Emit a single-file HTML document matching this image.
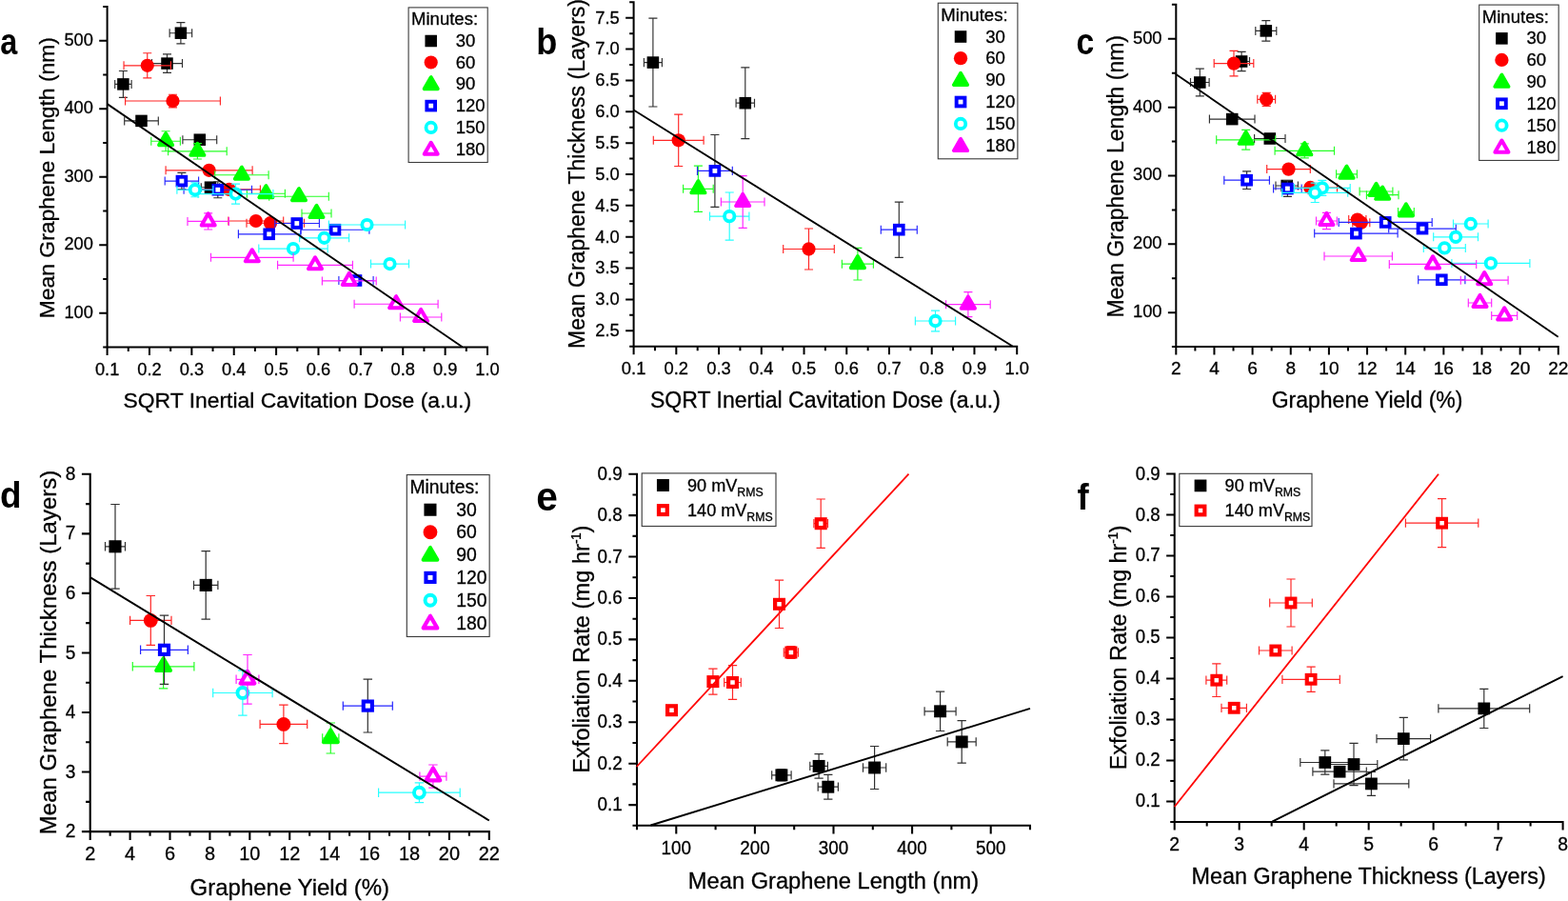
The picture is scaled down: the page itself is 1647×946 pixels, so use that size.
<!DOCTYPE html>
<html lang="en"><head><meta charset="utf-8"><title>Graphene exfoliation figure</title>
<style>html,body{margin:0;padding:0;background:#fff;}body{width:1647px;height:946px;overflow:hidden;font-family:"Liberation Sans", sans-serif;}svg{display:block;}</style>
</head><body>
<svg width="1647" height="946" viewBox="0 0 1647 946" font-family='"Liberation Sans", sans-serif' fill="#000">
<g id="panel-a">
<path d="M112.6 6.1V364.6H513M112.6 364.6v8.4M156.98 364.6v8.4M201.36 364.6v8.4M245.73 364.6v8.4M290.11 364.6v8.4M334.49 364.6v8.4M378.87 364.6v8.4M423.24 364.6v8.4M467.62 364.6v8.4M512 364.6v8.4M134.79 364.6v4.4M179.17 364.6v4.4M223.54 364.6v4.4M267.92 364.6v4.4M312.3 364.6v4.4M356.68 364.6v4.4M401.06 364.6v4.4M445.43 364.6v4.4M489.81 364.6v4.4M112.6 328.85h-8.4M112.6 257.35h-8.4M112.6 185.85h-8.4M112.6 114.35h-8.4M112.6 42.85h-8.4M112.6 364.6h-4.4M112.6 293.1h-4.4M112.6 221.6h-4.4M112.6 150.1h-4.4M112.6 78.6h-4.4M112.6 7.1h-4.4" stroke="#000" stroke-width="2" fill="none"/>
<text transform="translate(112.6 393.6) scale(0.96 1)" font-size="19" text-anchor="middle" stroke="#000" stroke-width="0.3">0.1</text>
<text transform="translate(156.98 393.6) scale(0.96 1)" font-size="19" text-anchor="middle" stroke="#000" stroke-width="0.3">0.2</text>
<text transform="translate(201.36 393.6) scale(0.96 1)" font-size="19" text-anchor="middle" stroke="#000" stroke-width="0.3">0.3</text>
<text transform="translate(245.73 393.6) scale(0.96 1)" font-size="19" text-anchor="middle" stroke="#000" stroke-width="0.3">0.4</text>
<text transform="translate(290.11 393.6) scale(0.96 1)" font-size="19" text-anchor="middle" stroke="#000" stroke-width="0.3">0.5</text>
<text transform="translate(334.49 393.6) scale(0.96 1)" font-size="19" text-anchor="middle" stroke="#000" stroke-width="0.3">0.6</text>
<text transform="translate(378.87 393.6) scale(0.96 1)" font-size="19" text-anchor="middle" stroke="#000" stroke-width="0.3">0.7</text>
<text transform="translate(423.24 393.6) scale(0.96 1)" font-size="19" text-anchor="middle" stroke="#000" stroke-width="0.3">0.8</text>
<text transform="translate(467.62 393.6) scale(0.96 1)" font-size="19" text-anchor="middle" stroke="#000" stroke-width="0.3">0.9</text>
<text transform="translate(512 393.6) scale(0.96 1)" font-size="19" text-anchor="middle" stroke="#000" stroke-width="0.3">1.0</text>
<text transform="translate(97.9 333.65) scale(0.96 1)" font-size="19" text-anchor="end" stroke="#000" stroke-width="0.3">100</text>
<text transform="translate(97.9 262.15) scale(0.96 1)" font-size="19" text-anchor="end" stroke="#000" stroke-width="0.3">200</text>
<text transform="translate(97.9 190.65) scale(0.96 1)" font-size="19" text-anchor="end" stroke="#000" stroke-width="0.3">300</text>
<text transform="translate(97.9 119.15) scale(0.96 1)" font-size="19" text-anchor="end" stroke="#000" stroke-width="0.3">400</text>
<text transform="translate(97.9 47.65) scale(0.96 1)" font-size="19" text-anchor="end" stroke="#000" stroke-width="0.3">500</text>
<text transform="translate(312.3 428.4)" font-size="22.9" text-anchor="middle" stroke="#000" stroke-width="0.3">SQRT Inertial Cavitation Dose (a.u.)</text>
<text transform="translate(57.2 186.65) rotate(-90)" font-size="22.9" text-anchor="middle" stroke="#000" stroke-width="0.3">Mean Graphene Length (nm)</text>
<text transform="translate(0.2 57.3) scale(0.82 1)" font-size="39.5" font-weight="bold" font-family="&quot;Liberation Sans&quot;, sans-serif">a</text>
<rect x="429.1" y="7.9" width="83.1" height="162.6" fill="#fff" stroke="#3c3c3c" stroke-width="1.1"/>
<text transform="translate(432.1 26.4)" font-size="18.5" stroke="#000" stroke-width="0.3">Minutes:</text>
<rect x="446.45" y="36.75" width="12.5" height="12.5" fill="#000000"/>
<text transform="translate(478.7 49.1)" font-size="18.5" stroke="#000" stroke-width="0.3">30</text>
<circle cx="452.7" cy="65.5" r="7.1" fill="#ff0000"/>
<text transform="translate(478.7 71.6)" font-size="18.5" stroke="#000" stroke-width="0.3">60</text>
<polygon points="452.7,81 445.58,93.3 459.83,93.3" fill="#00ff00" stroke="#00ff00" stroke-width="3.75" stroke-linejoin="round"/>
<text transform="translate(478.7 94.3)" font-size="18.5" stroke="#000" stroke-width="0.3">90</text>
<rect x="448.35" y="106.75" width="8.7" height="8.7" fill="#fff" stroke="#0000ff" stroke-width="3.9"/>
<text transform="translate(478.7 117.2)" font-size="18.5" stroke="#000" stroke-width="0.3">120</text>
<circle cx="452.7" cy="133.9" r="5.2" fill="#fff" stroke="#00ffff" stroke-width="3.8"/>
<text transform="translate(478.7 140)" font-size="18.5" stroke="#000" stroke-width="0.3">150</text>
<polygon points="452.7,149.73 445.7,161.83 459.7,161.83" fill="#fff" stroke="#ff00ff" stroke-width="4" stroke-linejoin="round"/>
<text transform="translate(478.7 162.9)" font-size="18.5" stroke="#000" stroke-width="0.3">180</text>
<g><path d="M178.15 34.7H201.65M178.15 30.2V39.2M201.65 30.2V39.2" stroke="#303030" stroke-width="1.15" fill="none"/><path d="M189.9 23.6V45.8M185.4 23.6H194.4M185.4 45.8H194.4" stroke="#303030" stroke-width="1.15" fill="none"/><path d="M159.5 66.6H191.5M159.5 62.1V71.1M191.5 62.1V71.1" stroke="#303030" stroke-width="1.15" fill="none"/><path d="M175.5 56.8V76.4M171 56.8H180M171 76.4H180" stroke="#303030" stroke-width="1.15" fill="none"/><path d="M120.7 88.4H138.1M120.7 83.9V92.9M138.1 83.9V92.9" stroke="#303030" stroke-width="1.15" fill="none"/><path d="M129.4 74.5V102.3M124.9 74.5H133.9M124.9 102.3H133.9" stroke="#303030" stroke-width="1.15" fill="none"/><path d="M130.7 126.9H166.3M130.7 122.4V131.4M166.3 122.4V131.4" stroke="#303030" stroke-width="1.15" fill="none"/><path d="M148.5 123.9V129.9M144 123.9H153M144 129.9H153" stroke="#303030" stroke-width="1.15" fill="none"/><path d="M191.9 146.7H227.7M191.9 142.2V151.2M227.7 142.2V151.2" stroke="#303030" stroke-width="1.15" fill="none"/><path d="M209.8 143.7V149.7M205.3 143.7H214.3M205.3 149.7H214.3" stroke="#303030" stroke-width="1.15" fill="none"/><path d="M211.3 196.7H230.7M211.3 192.2V201.2M230.7 192.2V201.2" stroke="#303030" stroke-width="1.15" fill="none"/><path d="M221 193.7V199.7M216.5 193.7H225.5M216.5 199.7H225.5" stroke="#303030" stroke-width="1.15" fill="none"/><rect x="183.65" y="28.45" width="12.5" height="12.5" fill="#000000"/><rect x="169.25" y="60.35" width="12.5" height="12.5" fill="#000000"/><rect x="123.15" y="82.15" width="12.5" height="12.5" fill="#000000"/><rect x="142.25" y="120.65" width="12.5" height="12.5" fill="#000000"/><rect x="203.55" y="140.45" width="12.5" height="12.5" fill="#000000"/><rect x="214.75" y="190.45" width="12.5" height="12.5" fill="#000000"/></g>
<g><path d="M130.05 68.8H179.45M130.05 64.3V73.3M179.45 64.3V73.3" stroke="#ff2626" stroke-width="1.15" fill="none"/><path d="M154.75 55.7V81.9M150.25 55.7H159.25M150.25 81.9H159.25" stroke="#ff2626" stroke-width="1.15" fill="none"/><path d="M131.6 106H231.4M131.6 101.5V110.5M231.4 101.5V110.5" stroke="#ff2626" stroke-width="1.15" fill="none"/><path d="M181.5 99.2V112.8M177 99.2H186M177 112.8H186" stroke="#ff2626" stroke-width="1.15" fill="none"/><path d="M174.1 178.8H265.1M174.1 174.3V183.3M265.1 174.3V183.3" stroke="#ff2626" stroke-width="1.15" fill="none"/><path d="M208.2 198.9H273.4M208.2 194.4V203.4M273.4 194.4V203.4" stroke="#ff2626" stroke-width="1.15" fill="none"/><path d="M239.9 232H297.7M239.9 227.5V236.5M297.7 227.5V236.5" stroke="#ff2626" stroke-width="1.15" fill="none"/><path d="M259 234.2H319.5M259 229.7V238.7M319.5 229.7V238.7" stroke="#ff2626" stroke-width="1.15" fill="none"/><circle cx="154.75" cy="68.8" r="7.1" fill="#ff0000"/><circle cx="181.5" cy="106" r="7.1" fill="#ff0000"/><circle cx="219.6" cy="178.8" r="7.1" fill="#ff0000"/><circle cx="240.8" cy="198.9" r="7.1" fill="#ff0000"/><circle cx="268.8" cy="232" r="7.1" fill="#ff0000"/><circle cx="284" cy="234.2" r="7.1" fill="#ff0000"/></g>
<g><path d="M158.8 148.2H189.4M158.8 143.7V152.7M189.4 143.7V152.7" stroke="#26ff26" stroke-width="1.15" fill="none"/><path d="M174.1 137.7V158.7M169.6 137.7H178.6M169.6 158.7H178.6" stroke="#26ff26" stroke-width="1.15" fill="none"/><path d="M176.6 158.8H238.2M176.6 154.3V163.3M238.2 154.3V163.3" stroke="#26ff26" stroke-width="1.15" fill="none"/><path d="M207.4 150.6V167M202.9 150.6H211.9M202.9 167H211.9" stroke="#26ff26" stroke-width="1.15" fill="none"/><path d="M225.7 183.7H282.1M225.7 179.2V188.2M282.1 179.2V188.2" stroke="#26ff26" stroke-width="1.15" fill="none"/><path d="M259.4 203.2H299.4M259.4 198.7V207.7M299.4 198.7V207.7" stroke="#26ff26" stroke-width="1.15" fill="none"/><path d="M282.7 206.2H345.3M282.7 201.7V210.7M345.3 201.7V210.7" stroke="#26ff26" stroke-width="1.15" fill="none"/><path d="M317 224H348M317 219.5V228.5M348 219.5V228.5" stroke="#26ff26" stroke-width="1.15" fill="none"/><polygon points="174.1,140 166.97,152.3 181.22,152.3" fill="#00ff00" stroke="#00ff00" stroke-width="3.75" stroke-linejoin="round"/><polygon points="207.4,150.6 200.28,162.9 214.53,162.9" fill="#00ff00" stroke="#00ff00" stroke-width="3.75" stroke-linejoin="round"/><polygon points="253.9,175.5 246.78,187.8 261.02,187.8" fill="#00ff00" stroke="#00ff00" stroke-width="3.75" stroke-linejoin="round"/><polygon points="279.4,195 272.27,207.3 286.52,207.3" fill="#00ff00" stroke="#00ff00" stroke-width="3.75" stroke-linejoin="round"/><polygon points="314,198 306.88,210.3 321.12,210.3" fill="#00ff00" stroke="#00ff00" stroke-width="3.75" stroke-linejoin="round"/><polygon points="332.5,215.8 325.38,228.1 339.62,228.1" fill="#00ff00" stroke="#00ff00" stroke-width="3.75" stroke-linejoin="round"/></g>
<g><path d="M173.2 190.1H208.6M173.2 185.6V194.6M208.6 185.6V194.6" stroke="#2626ff" stroke-width="1.15" fill="none"/><path d="M190.9 181.3V198.9M186.4 181.3H195.4M186.4 198.9H195.4" stroke="#303030" stroke-width="1.15" fill="none"/><path d="M193.1 199.2H264.5M193.1 194.7V203.7M264.5 194.7V203.7" stroke="#2626ff" stroke-width="1.15" fill="none"/><path d="M228.8 190.7V207.7M224.3 190.7H233.3M224.3 207.7H233.3" stroke="#303030" stroke-width="1.15" fill="none"/><path d="M288.8 234.5H335.4M288.8 230V239M335.4 230V239" stroke="#2626ff" stroke-width="1.15" fill="none"/><path d="M250.4 245.8H315.8M250.4 241.3V250.3M315.8 241.3V250.3" stroke="#2626ff" stroke-width="1.15" fill="none"/><path d="M316.1 241.2H387.9M316.1 236.7V245.7M387.9 236.7V245.7" stroke="#2626ff" stroke-width="1.15" fill="none"/><path d="M355.9 294.5H392.1M355.9 290V299M392.1 290V299" stroke="#2626ff" stroke-width="1.15" fill="none"/><rect x="186.55" y="185.75" width="8.7" height="8.7" fill="#fff" stroke="#0000ff" stroke-width="3.9"/><rect x="224.45" y="194.85" width="8.7" height="8.7" fill="#fff" stroke="#0000ff" stroke-width="3.9"/><rect x="307.45" y="230.15" width="8.7" height="8.7" fill="#fff" stroke="#0000ff" stroke-width="3.9"/><rect x="278.35" y="241.45" width="8.7" height="8.7" fill="#fff" stroke="#0000ff" stroke-width="3.9"/><rect x="347.65" y="236.85" width="8.7" height="8.7" fill="#fff" stroke="#0000ff" stroke-width="3.9"/><rect x="369.65" y="290.15" width="8.7" height="8.7" fill="#fff" stroke="#0000ff" stroke-width="3.9"/></g>
<g><path d="M185.9 199.2H223.9M185.9 194.7V203.7M223.9 194.7V203.7" stroke="#26ffff" stroke-width="1.15" fill="none"/><path d="M204.9 191.7V206.7M200.4 191.7H209.4M200.4 206.7H209.4" stroke="#26ffff" stroke-width="1.15" fill="none"/><path d="M208.1 203.6H286.9M208.1 199.1V208.1M286.9 199.1V208.1" stroke="#26ffff" stroke-width="1.15" fill="none"/><path d="M247.5 193.1V214.1M243 193.1H252M243 214.1H252" stroke="#26ffff" stroke-width="1.15" fill="none"/><path d="M345.4 236H425.6M345.4 231.5V240.5M425.6 231.5V240.5" stroke="#26ffff" stroke-width="1.15" fill="none"/><path d="M314.6 249.8H366.6M314.6 245.3V254.3M366.6 245.3V254.3" stroke="#26ffff" stroke-width="1.15" fill="none"/><path d="M271.8 261.1H344.2M271.8 256.6V265.6M344.2 256.6V265.6" stroke="#26ffff" stroke-width="1.15" fill="none"/><path d="M389.5 277.1H429.5M389.5 272.6V281.6M429.5 272.6V281.6" stroke="#26ffff" stroke-width="1.15" fill="none"/><circle cx="204.9" cy="199.2" r="5.2" fill="#fff" stroke="#00ffff" stroke-width="3.8"/><circle cx="247.5" cy="203.6" r="5.2" fill="#fff" stroke="#00ffff" stroke-width="3.8"/><circle cx="385.5" cy="236" r="5.2" fill="#fff" stroke="#00ffff" stroke-width="3.8"/><circle cx="340.6" cy="249.8" r="5.2" fill="#fff" stroke="#00ffff" stroke-width="3.8"/><circle cx="308" cy="261.1" r="5.2" fill="#fff" stroke="#00ffff" stroke-width="3.8"/><circle cx="409.5" cy="277.1" r="5.2" fill="#fff" stroke="#00ffff" stroke-width="3.8"/></g>
<g><path d="M197 232.4H240.4M197 227.9V236.9M240.4 227.9V236.9" stroke="#ff26ff" stroke-width="1.15" fill="none"/><path d="M218.7 223.8V241M214.2 223.8H223.2M214.2 241H223.2" stroke="#ff26ff" stroke-width="1.15" fill="none"/><path d="M221.5 270.3H308.1M221.5 265.8V274.8M308.1 265.8V274.8" stroke="#ff26ff" stroke-width="1.15" fill="none"/><path d="M291.6 278.3H370.4M291.6 273.8V282.8M370.4 273.8V282.8" stroke="#ff26ff" stroke-width="1.15" fill="none"/><path d="M338.4 294.9H395.2M338.4 290.4V299.4M395.2 290.4V299.4" stroke="#ff26ff" stroke-width="1.15" fill="none"/><path d="M372.1 319.2H460.1M372.1 314.7V323.7M460.1 314.7V323.7" stroke="#ff26ff" stroke-width="1.15" fill="none"/><path d="M420.4 333H463.8M420.4 328.5V337.5M463.8 328.5V337.5" stroke="#ff26ff" stroke-width="1.15" fill="none"/><polygon points="218.7,224.33 211.7,236.43 225.7,236.43" fill="#fff" stroke="#ff00ff" stroke-width="4" stroke-linejoin="round"/><polygon points="264.8,262.23 257.8,274.33 271.8,274.33" fill="#fff" stroke="#ff00ff" stroke-width="4" stroke-linejoin="round"/><polygon points="331,270.23 324,282.33 338,282.33" fill="#fff" stroke="#ff00ff" stroke-width="4" stroke-linejoin="round"/><polygon points="366.8,286.83 359.8,298.93 373.8,298.93" fill="#fff" stroke="#ff00ff" stroke-width="4" stroke-linejoin="round"/><polygon points="416.1,311.13 409.1,323.23 423.1,323.23" fill="#fff" stroke="#ff00ff" stroke-width="4" stroke-linejoin="round"/><polygon points="442.1,324.93 435.1,337.03 449.1,337.03" fill="#fff" stroke="#ff00ff" stroke-width="4" stroke-linejoin="round"/></g>
<line x1="112.6" y1="109.1" x2="485.6" y2="364.3" stroke="#000" stroke-width="1.9"/>
</g>
<g id="panel-b">
<path d="M665.6 1.29V363.7H1069.21M665.6 363.7v8.45M710.33 363.7v8.45M755.07 363.7v8.45M799.8 363.7v8.45M844.53 363.7v8.45M889.27 363.7v8.45M934 363.7v8.45M978.73 363.7v8.45M1023.47 363.7v8.45M1068.2 363.7v8.45M687.97 363.7v4.43M732.7 363.7v4.43M777.43 363.7v4.43M822.17 363.7v4.43M866.9 363.7v4.43M911.63 363.7v4.43M956.37 363.7v4.43M1001.1 363.7v4.43M1045.83 363.7v4.43M665.6 347.27h-8.45M665.6 314.42h-8.45M665.6 281.56h-8.45M665.6 248.71h-8.45M665.6 215.85h-8.45M665.6 183h-8.45M665.6 150.15h-8.45M665.6 117.29h-8.45M665.6 84.44h-8.45M665.6 51.58h-8.45M665.6 18.73h-8.45M665.6 363.7h-4.43M665.6 330.85h-4.43M665.6 297.99h-4.43M665.6 265.14h-4.43M665.6 232.28h-4.43M665.6 199.43h-4.43M665.6 166.57h-4.43M665.6 133.72h-4.43M665.6 100.86h-4.43M665.6 68.01h-4.43M665.6 35.15h-4.43M665.6 2.3h-4.43" stroke="#000" stroke-width="2.01" fill="none"/>
<text transform="translate(665.6 392.87) scale(0.96 1)" font-size="19.11" text-anchor="middle" stroke="#000" stroke-width="0.3">0.1</text>
<text transform="translate(710.33 392.87) scale(0.96 1)" font-size="19.11" text-anchor="middle" stroke="#000" stroke-width="0.3">0.2</text>
<text transform="translate(755.07 392.87) scale(0.96 1)" font-size="19.11" text-anchor="middle" stroke="#000" stroke-width="0.3">0.3</text>
<text transform="translate(799.8 392.87) scale(0.96 1)" font-size="19.11" text-anchor="middle" stroke="#000" stroke-width="0.3">0.4</text>
<text transform="translate(844.53 392.87) scale(0.96 1)" font-size="19.11" text-anchor="middle" stroke="#000" stroke-width="0.3">0.5</text>
<text transform="translate(889.27 392.87) scale(0.96 1)" font-size="19.11" text-anchor="middle" stroke="#000" stroke-width="0.3">0.6</text>
<text transform="translate(934 392.87) scale(0.96 1)" font-size="19.11" text-anchor="middle" stroke="#000" stroke-width="0.3">0.7</text>
<text transform="translate(978.73 392.87) scale(0.96 1)" font-size="19.11" text-anchor="middle" stroke="#000" stroke-width="0.3">0.8</text>
<text transform="translate(1023.47 392.87) scale(0.96 1)" font-size="19.11" text-anchor="middle" stroke="#000" stroke-width="0.3">0.9</text>
<text transform="translate(1068.2 392.87) scale(0.96 1)" font-size="19.11" text-anchor="middle" stroke="#000" stroke-width="0.3">1.0</text>
<text transform="translate(650.81 353.11) scale(0.96 1)" font-size="19.11" text-anchor="end" stroke="#000" stroke-width="0.3">2.5</text>
<text transform="translate(650.81 320.25) scale(0.96 1)" font-size="19.11" text-anchor="end" stroke="#000" stroke-width="0.3">3.0</text>
<text transform="translate(650.81 287.4) scale(0.96 1)" font-size="19.11" text-anchor="end" stroke="#000" stroke-width="0.3">3.5</text>
<text transform="translate(650.81 254.54) scale(0.96 1)" font-size="19.11" text-anchor="end" stroke="#000" stroke-width="0.3">4.0</text>
<text transform="translate(650.81 221.69) scale(0.96 1)" font-size="19.11" text-anchor="end" stroke="#000" stroke-width="0.3">4.5</text>
<text transform="translate(650.81 188.83) scale(0.96 1)" font-size="19.11" text-anchor="end" stroke="#000" stroke-width="0.3">5.0</text>
<text transform="translate(650.81 155.98) scale(0.96 1)" font-size="19.11" text-anchor="end" stroke="#000" stroke-width="0.3">5.5</text>
<text transform="translate(650.81 123.13) scale(0.96 1)" font-size="19.11" text-anchor="end" stroke="#000" stroke-width="0.3">6.0</text>
<text transform="translate(650.81 90.27) scale(0.96 1)" font-size="19.11" text-anchor="end" stroke="#000" stroke-width="0.3">6.5</text>
<text transform="translate(650.81 57.42) scale(0.96 1)" font-size="19.11" text-anchor="end" stroke="#000" stroke-width="0.3">7.0</text>
<text transform="translate(650.81 24.56) scale(0.96 1)" font-size="19.11" text-anchor="end" stroke="#000" stroke-width="0.3">7.5</text>
<text transform="translate(866.9 427.88)" font-size="23.04" text-anchor="middle" stroke="#000" stroke-width="0.3">SQRT Inertial Cavitation Dose (a.u.)</text>
<text transform="translate(613.69 182.5) rotate(-90)" font-size="23.04" text-anchor="middle" stroke="#000" stroke-width="0.3">Mean Graphene Thickness (Layers)</text>
<text transform="translate(563.3 56.9) scale(0.95 1)" font-size="38.03" font-weight="bold" font-family="&quot;Liberation Sans&quot;, sans-serif">b</text>
<rect x="985.3" y="3.21" width="83.6" height="163.58" fill="#fff" stroke="#3c3c3c" stroke-width="1.11"/>
<text transform="translate(988.32 21.82)" font-size="18.61" stroke="#000" stroke-width="0.3">Minutes:</text>
<rect x="1002.75" y="32.23" width="12.57" height="12.57" fill="#000000"/>
<text transform="translate(1035.2 44.65)" font-size="18.61" stroke="#000" stroke-width="0.3">30</text>
<circle cx="1009.04" cy="61.15" r="7.14" fill="#ff0000"/>
<text transform="translate(1035.2 67.29)" font-size="18.61" stroke="#000" stroke-width="0.3">60</text>
<polygon points="1009.04,76.74 1001.87,89.12 1016.21,89.12" fill="#00ff00" stroke="#00ff00" stroke-width="3.77" stroke-linejoin="round"/>
<text transform="translate(1035.2 90.12)" font-size="18.61" stroke="#000" stroke-width="0.3">90</text>
<rect x="1004.67" y="102.65" width="8.75" height="8.75" fill="#fff" stroke="#0000ff" stroke-width="3.92"/>
<text transform="translate(1035.2 113.16)" font-size="18.61" stroke="#000" stroke-width="0.3">120</text>
<circle cx="1009.04" cy="129.96" r="5.23" fill="#fff" stroke="#00ffff" stroke-width="3.82"/>
<text transform="translate(1035.2 136.1)" font-size="18.61" stroke="#000" stroke-width="0.3">150</text>
<polygon points="1009.04,145.76 1001.87,158.13 1016.21,158.13" fill="#ff00ff" stroke="#ff00ff" stroke-width="3.77" stroke-linejoin="round"/>
<text transform="translate(1035.2 159.14)" font-size="18.61" stroke="#000" stroke-width="0.3">180</text>
<g><path d="M676.4 65.6H695.4M676.4 61.07V70.13M695.4 61.07V70.13" stroke="#303030" stroke-width="1.16" fill="none"/><path d="M685.9 19.2V112M681.37 19.2H690.43M681.37 112H690.43" stroke="#303030" stroke-width="1.16" fill="none"/><path d="M773.1 108.2H792.5M773.1 103.67V112.73M792.5 103.67V112.73" stroke="#303030" stroke-width="1.16" fill="none"/><path d="M782.8 70.8V145.6M778.27 70.8H787.33M778.27 145.6H787.33" stroke="#303030" stroke-width="1.16" fill="none"/><rect x="679.61" y="59.31" width="12.57" height="12.57" fill="#000000"/><rect x="776.51" y="101.91" width="12.57" height="12.57" fill="#000000"/></g>
<g><path d="M686.3 147.3H739.1M686.3 142.77V151.83M739.1 142.77V151.83" stroke="#ff2626" stroke-width="1.16" fill="none"/><path d="M712.7 120.1V174.5M708.17 120.1H717.23M708.17 174.5H717.23" stroke="#ff2626" stroke-width="1.16" fill="none"/><path d="M822.7 261.5H876.3M822.7 256.97V266.03M876.3 256.97V266.03" stroke="#ff2626" stroke-width="1.16" fill="none"/><path d="M849.5 240V283M844.97 240H854.03M844.97 283H854.03" stroke="#ff2626" stroke-width="1.16" fill="none"/><circle cx="712.7" cy="147.3" r="7.14" fill="#ff0000"/><circle cx="849.5" cy="261.5" r="7.14" fill="#ff0000"/></g>
<g><path d="M717.6 198.3H749.2M717.6 193.77V202.83M749.2 193.77V202.83" stroke="#26ff26" stroke-width="1.16" fill="none"/><path d="M733.4 174.2V222.4M728.87 174.2H737.93M728.87 222.4H737.93" stroke="#26ff26" stroke-width="1.16" fill="none"/><path d="M884.4 277.2H917.4M884.4 272.67V281.73M917.4 272.67V281.73" stroke="#26ff26" stroke-width="1.16" fill="none"/><path d="M900.9 260.4V294M896.37 260.4H905.43M896.37 294H905.43" stroke="#26ff26" stroke-width="1.16" fill="none"/><polygon points="733.4,190.05 726.23,202.42 740.57,202.42" fill="#00ff00" stroke="#00ff00" stroke-width="3.77" stroke-linejoin="round"/><polygon points="900.9,268.95 893.73,281.32 908.07,281.32" fill="#00ff00" stroke="#00ff00" stroke-width="3.77" stroke-linejoin="round"/></g>
<g><path d="M732.5 179.4H769.3M732.5 174.87V183.93M769.3 174.87V183.93" stroke="#2626ff" stroke-width="1.16" fill="none"/><path d="M750.9 141.5V217.3M746.37 141.5H755.43M746.37 217.3H755.43" stroke="#303030" stroke-width="1.16" fill="none"/><path d="M925.3 241.2H963.3M925.3 236.67V245.73M963.3 236.67V245.73" stroke="#2626ff" stroke-width="1.16" fill="none"/><path d="M944.3 212.1V270.3M939.77 212.1H948.83M939.77 270.3H948.83" stroke="#303030" stroke-width="1.16" fill="none"/><rect x="746.52" y="175.02" width="8.75" height="8.75" fill="#fff" stroke="#0000ff" stroke-width="3.92"/><rect x="939.92" y="236.82" width="8.75" height="8.75" fill="#fff" stroke="#0000ff" stroke-width="3.92"/></g>
<g><path d="M745.5 227.1H786.9M745.5 222.57V231.63M786.9 222.57V231.63" stroke="#26ffff" stroke-width="1.16" fill="none"/><path d="M766.2 202V252.2M761.67 202H770.73M761.67 252.2H770.73" stroke="#26ffff" stroke-width="1.16" fill="none"/><path d="M961.4 337H1003.6M961.4 332.47V341.53M1003.6 332.47V341.53" stroke="#26ffff" stroke-width="1.16" fill="none"/><path d="M982.5 326.2V347.8M977.97 326.2H987.03M977.97 347.8H987.03" stroke="#26ffff" stroke-width="1.16" fill="none"/><circle cx="766.2" cy="227.1" r="5.23" fill="#fff" stroke="#00ffff" stroke-width="3.82"/><circle cx="982.5" cy="337" r="5.23" fill="#fff" stroke="#00ffff" stroke-width="3.82"/></g>
<g><path d="M757.4 212H803M757.4 207.47V216.53M803 207.47V216.53" stroke="#ff26ff" stroke-width="1.16" fill="none"/><path d="M780.2 184.7V239.3M775.67 184.7H784.73M775.67 239.3H784.73" stroke="#ff26ff" stroke-width="1.16" fill="none"/><path d="M993.6 319.7H1040.2M993.6 315.17V324.23M1040.2 315.17V324.23" stroke="#ff26ff" stroke-width="1.16" fill="none"/><path d="M1016.9 306.7V332.7M1012.37 306.7H1021.43M1012.37 332.7H1021.43" stroke="#ff26ff" stroke-width="1.16" fill="none"/><polygon points="780.2,203.75 773.03,216.12 787.37,216.12" fill="#ff00ff" stroke="#ff00ff" stroke-width="3.77" stroke-linejoin="round"/><polygon points="1016.9,311.45 1009.73,323.82 1024.07,323.82" fill="#ff00ff" stroke="#ff00ff" stroke-width="3.77" stroke-linejoin="round"/></g>
<line x1="665.6" y1="115.5" x2="1063.5" y2="363.5" stroke="#000" stroke-width="1.91"/>
</g>
<g id="panel-c">
<path d="M1235.3 3.85V364.1H1637.8M1235.3 364.1v8.44M1275.45 364.1v8.44M1315.6 364.1v8.44M1355.75 364.1v8.44M1395.9 364.1v8.44M1436.05 364.1v8.44M1476.2 364.1v8.44M1516.35 364.1v8.44M1556.5 364.1v8.44M1596.65 364.1v8.44M1636.8 364.1v8.44M1255.38 364.1v4.42M1295.52 364.1v4.42M1335.67 364.1v4.42M1375.82 364.1v4.42M1415.97 364.1v4.42M1456.12 364.1v4.42M1496.28 364.1v4.42M1536.42 364.1v4.42M1576.57 364.1v4.42M1616.72 364.1v4.42M1235.3 328.18h-8.44M1235.3 256.33h-8.44M1235.3 184.48h-8.44M1235.3 112.63h-8.44M1235.3 40.78h-8.44M1235.3 364.1h-4.42M1235.3 292.25h-4.42M1235.3 220.4h-4.42M1235.3 148.55h-4.42M1235.3 76.7h-4.42M1235.3 4.85h-4.42" stroke="#000" stroke-width="2.01" fill="none"/>
<text transform="translate(1235.3 393.23)" font-size="19.09" text-anchor="middle" stroke="#000" stroke-width="0.3">2</text>
<text transform="translate(1275.45 393.23)" font-size="19.09" text-anchor="middle" stroke="#000" stroke-width="0.3">4</text>
<text transform="translate(1315.6 393.23)" font-size="19.09" text-anchor="middle" stroke="#000" stroke-width="0.3">6</text>
<text transform="translate(1355.75 393.23)" font-size="19.09" text-anchor="middle" stroke="#000" stroke-width="0.3">8</text>
<text transform="translate(1395.9 393.23)" font-size="19.09" text-anchor="middle" stroke="#000" stroke-width="0.3">10</text>
<text transform="translate(1436.05 393.23)" font-size="19.09" text-anchor="middle" stroke="#000" stroke-width="0.3">12</text>
<text transform="translate(1476.2 393.23)" font-size="19.09" text-anchor="middle" stroke="#000" stroke-width="0.3">14</text>
<text transform="translate(1516.35 393.23)" font-size="19.09" text-anchor="middle" stroke="#000" stroke-width="0.3">16</text>
<text transform="translate(1556.5 393.23)" font-size="19.09" text-anchor="middle" stroke="#000" stroke-width="0.3">18</text>
<text transform="translate(1596.65 393.23)" font-size="19.09" text-anchor="middle" stroke="#000" stroke-width="0.3">20</text>
<text transform="translate(1636.8 393.23)" font-size="19.09" text-anchor="middle" stroke="#000" stroke-width="0.3">22</text>
<text transform="translate(1220.53 333.1) scale(0.96 1)" font-size="19.09" text-anchor="end" stroke="#000" stroke-width="0.3">100</text>
<text transform="translate(1220.53 261.25) scale(0.96 1)" font-size="19.09" text-anchor="end" stroke="#000" stroke-width="0.3">200</text>
<text transform="translate(1220.53 189.4) scale(0.96 1)" font-size="19.09" text-anchor="end" stroke="#000" stroke-width="0.3">300</text>
<text transform="translate(1220.53 117.55) scale(0.96 1)" font-size="19.09" text-anchor="end" stroke="#000" stroke-width="0.3">400</text>
<text transform="translate(1220.53 45.7) scale(0.96 1)" font-size="19.09" text-anchor="end" stroke="#000" stroke-width="0.3">500</text>
<text transform="translate(1436.05 428.19)" font-size="23" text-anchor="middle" stroke="#000" stroke-width="0.3">Graphene Yield (%)</text>
<text transform="translate(1179.55 185.28) rotate(-90)" font-size="23" text-anchor="middle" stroke="#000" stroke-width="0.3">Mean Graphene Length (nm)</text>
<text transform="translate(1130.6 57) scale(0.85 1)" font-size="39.68" font-weight="bold" font-family="&quot;Liberation Sans&quot;, sans-serif">c</text>
<rect x="1553.7" y="5.1" width="83.47" height="163.33" fill="#fff" stroke="#3c3c3c" stroke-width="1.1"/>
<text transform="translate(1556.71 23.69)" font-size="18.58" stroke="#000" stroke-width="0.3">Minutes:</text>
<rect x="1571.13" y="34.08" width="12.56" height="12.56" fill="#000000"/>
<text transform="translate(1603.52 46.49)" font-size="18.58" stroke="#000" stroke-width="0.3">30</text>
<circle cx="1577.41" cy="62.96" r="7.13" fill="#ff0000"/>
<text transform="translate(1603.52 69.09)" font-size="18.58" stroke="#000" stroke-width="0.3">60</text>
<polygon points="1577.41,78.53 1570.25,90.89 1584.56,90.89" fill="#00ff00" stroke="#00ff00" stroke-width="3.77" stroke-linejoin="round"/>
<text transform="translate(1603.52 91.89)" font-size="18.58" stroke="#000" stroke-width="0.3">90</text>
<rect x="1573.04" y="104.4" width="8.74" height="8.74" fill="#fff" stroke="#0000ff" stroke-width="3.92"/>
<text transform="translate(1603.52 114.9)" font-size="18.58" stroke="#000" stroke-width="0.3">120</text>
<circle cx="1577.41" cy="131.67" r="5.22" fill="#fff" stroke="#00ffff" stroke-width="3.82"/>
<text transform="translate(1603.52 137.8)" font-size="18.58" stroke="#000" stroke-width="0.3">150</text>
<polygon points="1577.41,147.58 1570.37,159.73 1584.44,159.73" fill="#fff" stroke="#ff00ff" stroke-width="4.02" stroke-linejoin="round"/>
<text transform="translate(1603.52 160.8)" font-size="18.58" stroke="#000" stroke-width="0.3">180</text>
<g><path d="M1318.8 32.4H1340.8M1318.8 27.88V36.92M1340.8 27.88V36.92" stroke="#303030" stroke-width="1.16" fill="none"/><path d="M1329.8 21.6V43.2M1325.28 21.6H1334.32M1325.28 43.2H1334.32" stroke="#303030" stroke-width="1.16" fill="none"/><path d="M1295.7 64.5H1312.5M1295.7 59.98V69.02M1312.5 59.98V69.02" stroke="#303030" stroke-width="1.16" fill="none"/><path d="M1304.1 54.3V74.7M1299.58 54.3H1308.62M1299.58 74.7H1308.62" stroke="#303030" stroke-width="1.16" fill="none"/><path d="M1250.5 86.5H1270.1M1250.5 81.98V91.02M1270.1 81.98V91.02" stroke="#303030" stroke-width="1.16" fill="none"/><path d="M1260.3 72.1V100.9M1255.78 72.1H1264.82M1255.78 100.9H1264.82" stroke="#303030" stroke-width="1.16" fill="none"/><path d="M1270.4 125.1H1318M1270.4 120.58V129.62M1318 120.58V129.62" stroke="#303030" stroke-width="1.16" fill="none"/><path d="M1294.2 122.1V128.1M1289.68 122.1H1298.72M1289.68 128.1H1298.72" stroke="#303030" stroke-width="1.16" fill="none"/><path d="M1317.6 145.5H1350M1317.6 140.98V150.02M1350 140.98V150.02" stroke="#303030" stroke-width="1.16" fill="none"/><path d="M1333.8 141.5V149.5M1329.28 141.5H1338.32M1329.28 149.5H1338.32" stroke="#303030" stroke-width="1.16" fill="none"/><path d="M1340 195H1363.4M1340 190.48V199.52M1363.4 190.48V199.52" stroke="#303030" stroke-width="1.16" fill="none"/><rect x="1323.52" y="26.12" width="12.56" height="12.56" fill="#000000"/><rect x="1297.82" y="58.22" width="12.56" height="12.56" fill="#000000"/><rect x="1254.02" y="80.22" width="12.56" height="12.56" fill="#000000"/><rect x="1287.92" y="118.82" width="12.56" height="12.56" fill="#000000"/><rect x="1327.52" y="139.22" width="12.56" height="12.56" fill="#000000"/><rect x="1345.42" y="188.72" width="12.56" height="12.56" fill="#000000"/></g>
<g><path d="M1275.2 66.6H1316.8M1275.2 62.08V71.12M1316.8 62.08V71.12" stroke="#ff2626" stroke-width="1.16" fill="none"/><path d="M1296 53.4V79.8M1291.48 53.4H1300.52M1291.48 79.8H1300.52" stroke="#ff2626" stroke-width="1.16" fill="none"/><path d="M1320.8 104.3H1339.6M1320.8 99.78V108.82M1339.6 99.78V108.82" stroke="#ff2626" stroke-width="1.16" fill="none"/><path d="M1330.2 97.3V111.3M1325.68 97.3H1334.72M1325.68 111.3H1334.72" stroke="#ff2626" stroke-width="1.16" fill="none"/><path d="M1330.7 177.6H1376.3M1330.7 173.08V182.12M1376.3 173.08V182.12" stroke="#ff2626" stroke-width="1.16" fill="none"/><path d="M1348.1 197H1404.5M1348.1 192.48V201.52M1404.5 192.48V201.52" stroke="#ff2626" stroke-width="1.16" fill="none"/><path d="M1416.7 230.6H1434.9M1416.7 226.08V235.12M1434.9 226.08V235.12" stroke="#ff2626" stroke-width="1.16" fill="none"/><path d="M1420.8 233.8H1438.8M1420.8 229.28V238.32M1438.8 229.28V238.32" stroke="#ff2626" stroke-width="1.16" fill="none"/><circle cx="1296" cy="66.6" r="7.13" fill="#ff0000"/><circle cx="1330.2" cy="104.3" r="7.13" fill="#ff0000"/><circle cx="1353.5" cy="177.6" r="7.13" fill="#ff0000"/><circle cx="1376.3" cy="197" r="7.13" fill="#ff0000"/><circle cx="1425.8" cy="230.6" r="7.13" fill="#ff0000"/><circle cx="1429.8" cy="233.8" r="7.13" fill="#ff0000"/></g>
<g><path d="M1277.7 146.8H1339.7M1277.7 142.28V151.32M1339.7 142.28V151.32" stroke="#26ff26" stroke-width="1.16" fill="none"/><path d="M1308.7 136.4V157.2M1304.18 136.4H1313.22M1304.18 157.2H1313.22" stroke="#26ff26" stroke-width="1.16" fill="none"/><path d="M1339.1 158.3H1401.5M1339.1 153.78V162.82M1401.5 153.78V162.82" stroke="#26ff26" stroke-width="1.16" fill="none"/><path d="M1370.3 150.8V165.8M1365.78 150.8H1374.82M1365.78 165.8H1374.82" stroke="#26ff26" stroke-width="1.16" fill="none"/><path d="M1403.6 182.8H1425.4M1403.6 178.28V187.32M1425.4 178.28V187.32" stroke="#26ff26" stroke-width="1.16" fill="none"/><path d="M1428.1 201H1462.9M1428.1 196.48V205.52M1462.9 196.48V205.52" stroke="#26ff26" stroke-width="1.16" fill="none"/><path d="M1435.4 204.7H1469M1435.4 200.18V209.22M1469 200.18V209.22" stroke="#26ff26" stroke-width="1.16" fill="none"/><path d="M1468.5 222.4H1485.3M1468.5 217.88V226.92M1485.3 217.88V226.92" stroke="#26ff26" stroke-width="1.16" fill="none"/><polygon points="1308.7,138.56 1301.54,150.92 1315.86,150.92" fill="#00ff00" stroke="#00ff00" stroke-width="3.77" stroke-linejoin="round"/><polygon points="1370.3,150.06 1363.14,162.42 1377.46,162.42" fill="#00ff00" stroke="#00ff00" stroke-width="3.77" stroke-linejoin="round"/><polygon points="1414.5,174.56 1407.34,186.92 1421.66,186.92" fill="#00ff00" stroke="#00ff00" stroke-width="3.77" stroke-linejoin="round"/><polygon points="1445.5,192.76 1438.34,205.12 1452.66,205.12" fill="#00ff00" stroke="#00ff00" stroke-width="3.77" stroke-linejoin="round"/><polygon points="1452.2,196.46 1445.04,208.82 1459.36,208.82" fill="#00ff00" stroke="#00ff00" stroke-width="3.77" stroke-linejoin="round"/><polygon points="1476.9,214.16 1469.74,226.52 1484.06,226.52" fill="#00ff00" stroke="#00ff00" stroke-width="3.77" stroke-linejoin="round"/></g>
<g><path d="M1285.8 189.2H1333.4M1285.8 184.68V193.72M1333.4 184.68V193.72" stroke="#2626ff" stroke-width="1.16" fill="none"/><path d="M1309.6 179.9V198.5M1305.08 179.9H1314.12M1305.08 198.5H1314.12" stroke="#303030" stroke-width="1.16" fill="none"/><path d="M1337.6 198H1367.2M1337.6 193.48V202.52M1367.2 193.48V202.52" stroke="#2626ff" stroke-width="1.16" fill="none"/><path d="M1352.4 189.6V206.4M1347.88 189.6H1356.92M1347.88 206.4H1356.92" stroke="#303030" stroke-width="1.16" fill="none"/><path d="M1406.2 233.4H1504.2M1406.2 228.88V237.92M1504.2 228.88V237.92" stroke="#2626ff" stroke-width="1.16" fill="none"/><path d="M1380.7 245.1H1468.1M1380.7 240.58V249.62M1468.1 240.58V249.62" stroke="#2626ff" stroke-width="1.16" fill="none"/><path d="M1458.7 240.1H1529.3M1458.7 235.58V244.62M1529.3 235.58V244.62" stroke="#2626ff" stroke-width="1.16" fill="none"/><path d="M1489.7 293.8H1538.9M1489.7 289.28V298.32M1538.9 289.28V298.32" stroke="#2626ff" stroke-width="1.16" fill="none"/><rect x="1305.23" y="184.83" width="8.74" height="8.74" fill="#fff" stroke="#0000ff" stroke-width="3.92"/><rect x="1348.03" y="193.63" width="8.74" height="8.74" fill="#fff" stroke="#0000ff" stroke-width="3.92"/><rect x="1450.83" y="229.03" width="8.74" height="8.74" fill="#fff" stroke="#0000ff" stroke-width="3.92"/><rect x="1420.03" y="240.73" width="8.74" height="8.74" fill="#fff" stroke="#0000ff" stroke-width="3.92"/><rect x="1489.63" y="235.73" width="8.74" height="8.74" fill="#fff" stroke="#0000ff" stroke-width="3.92"/><rect x="1509.93" y="289.43" width="8.74" height="8.74" fill="#fff" stroke="#0000ff" stroke-width="3.92"/></g>
<g><path d="M1359.4 197.4H1418.2M1359.4 192.88V201.92M1418.2 192.88V201.92" stroke="#26ffff" stroke-width="1.16" fill="none"/><path d="M1388.8 189.4V205.4M1384.28 189.4H1393.32M1384.28 205.4H1393.32" stroke="#26ffff" stroke-width="1.16" fill="none"/><path d="M1346.7 202.3H1415.7M1346.7 197.78V206.82M1415.7 197.78V206.82" stroke="#26ffff" stroke-width="1.16" fill="none"/><path d="M1381.2 192.1V212.5M1376.68 192.1H1385.72M1376.68 212.5H1385.72" stroke="#26ffff" stroke-width="1.16" fill="none"/><path d="M1526.5 235H1563.1M1526.5 230.48V239.52M1563.1 230.48V239.52" stroke="#26ffff" stroke-width="1.16" fill="none"/><path d="M1505.7 248.8H1552.5M1505.7 244.28V253.32M1552.5 244.28V253.32" stroke="#26ffff" stroke-width="1.16" fill="none"/><path d="M1495.3 260.4H1539.3M1495.3 255.88V264.92M1539.3 255.88V264.92" stroke="#26ffff" stroke-width="1.16" fill="none"/><path d="M1524.9 276.4H1606.9M1524.9 271.88V280.92M1606.9 271.88V280.92" stroke="#26ffff" stroke-width="1.16" fill="none"/><circle cx="1388.8" cy="197.4" r="5.22" fill="#fff" stroke="#00ffff" stroke-width="3.82"/><circle cx="1381.2" cy="202.3" r="5.22" fill="#fff" stroke="#00ffff" stroke-width="3.82"/><circle cx="1544.8" cy="235" r="5.22" fill="#fff" stroke="#00ffff" stroke-width="3.82"/><circle cx="1529.1" cy="248.8" r="5.22" fill="#fff" stroke="#00ffff" stroke-width="3.82"/><circle cx="1517.3" cy="260.4" r="5.22" fill="#fff" stroke="#00ffff" stroke-width="3.82"/><circle cx="1565.9" cy="276.4" r="5.22" fill="#fff" stroke="#00ffff" stroke-width="3.82"/></g>
<g><path d="M1382.5 232H1404.3M1382.5 227.48V236.52M1404.3 227.48V236.52" stroke="#ff26ff" stroke-width="1.16" fill="none"/><path d="M1393.4 223.4V240.6M1388.88 223.4H1397.92M1388.88 240.6H1397.92" stroke="#ff26ff" stroke-width="1.16" fill="none"/><path d="M1391 269H1462.4M1391 264.48V273.52M1462.4 264.48V273.52" stroke="#ff26ff" stroke-width="1.16" fill="none"/><path d="M1459.3 277.4H1550.7M1459.3 272.88V281.92M1550.7 272.88V281.92" stroke="#ff26ff" stroke-width="1.16" fill="none"/><path d="M1534.3 294.2H1584.1M1534.3 289.68V298.72M1584.1 289.68V298.72" stroke="#ff26ff" stroke-width="1.16" fill="none"/><path d="M1542.3 318H1566.7M1542.3 313.48V322.52M1566.7 313.48V322.52" stroke="#ff26ff" stroke-width="1.16" fill="none"/><path d="M1566.7 331.4H1593.7M1566.7 326.88V335.92M1593.7 326.88V335.92" stroke="#ff26ff" stroke-width="1.16" fill="none"/><polygon points="1393.4,223.9 1386.37,236.05 1400.43,236.05" fill="#fff" stroke="#ff00ff" stroke-width="4.02" stroke-linejoin="round"/><polygon points="1426.7,260.9 1419.67,273.05 1433.73,273.05" fill="#fff" stroke="#ff00ff" stroke-width="4.02" stroke-linejoin="round"/><polygon points="1505,269.3 1497.97,281.45 1512.03,281.45" fill="#fff" stroke="#ff00ff" stroke-width="4.02" stroke-linejoin="round"/><polygon points="1559.2,286.1 1552.17,298.25 1566.23,298.25" fill="#fff" stroke="#ff00ff" stroke-width="4.02" stroke-linejoin="round"/><polygon points="1554.5,309.9 1547.47,322.05 1561.53,322.05" fill="#fff" stroke="#ff00ff" stroke-width="4.02" stroke-linejoin="round"/><polygon points="1580.2,323.3 1573.17,335.45 1587.23,335.45" fill="#fff" stroke="#ff00ff" stroke-width="4.02" stroke-linejoin="round"/></g>
<line x1="1234.9" y1="77.7" x2="1636.7" y2="353.7" stroke="#000" stroke-width="1.91"/>
</g>
<g id="panel-d">
<path d="M94.7 496.75V873.1H514.85M94.7 873.1v8.8M136.61 873.1v8.8M178.52 873.1v8.8M220.43 873.1v8.8M262.34 873.1v8.8M304.25 873.1v8.8M346.16 873.1v8.8M388.07 873.1v8.8M429.98 873.1v8.8M471.89 873.1v8.8M513.8 873.1v8.8M115.66 873.1v4.61M157.56 873.1v4.61M199.47 873.1v4.61M241.38 873.1v4.61M283.3 873.1v4.61M325.2 873.1v4.61M367.11 873.1v4.61M409.02 873.1v4.61M450.93 873.1v4.61M492.84 873.1v4.61M94.7 873.1h-8.8M94.7 810.55h-8.8M94.7 748h-8.8M94.7 685.45h-8.8M94.7 622.9h-8.8M94.7 560.35h-8.8M94.7 497.8h-8.8M94.7 841.83h-4.61M94.7 779.27h-4.61M94.7 716.73h-4.61M94.7 654.17h-4.61M94.7 591.62h-4.61M94.7 529.08h-4.61" stroke="#000" stroke-width="2.1" fill="none"/>
<text transform="translate(94.7 903.49)" font-size="19.91" text-anchor="middle" stroke="#000" stroke-width="0.3">2</text>
<text transform="translate(136.61 903.49)" font-size="19.91" text-anchor="middle" stroke="#000" stroke-width="0.3">4</text>
<text transform="translate(178.52 903.49)" font-size="19.91" text-anchor="middle" stroke="#000" stroke-width="0.3">6</text>
<text transform="translate(220.43 903.49)" font-size="19.91" text-anchor="middle" stroke="#000" stroke-width="0.3">8</text>
<text transform="translate(262.34 903.49)" font-size="19.91" text-anchor="middle" stroke="#000" stroke-width="0.3">10</text>
<text transform="translate(304.25 903.49)" font-size="19.91" text-anchor="middle" stroke="#000" stroke-width="0.3">12</text>
<text transform="translate(346.16 903.49)" font-size="19.91" text-anchor="middle" stroke="#000" stroke-width="0.3">14</text>
<text transform="translate(388.07 903.49)" font-size="19.91" text-anchor="middle" stroke="#000" stroke-width="0.3">16</text>
<text transform="translate(429.98 903.49)" font-size="19.91" text-anchor="middle" stroke="#000" stroke-width="0.3">18</text>
<text transform="translate(471.89 903.49)" font-size="19.91" text-anchor="middle" stroke="#000" stroke-width="0.3">20</text>
<text transform="translate(513.8 903.49)" font-size="19.91" text-anchor="middle" stroke="#000" stroke-width="0.3">22</text>
<text transform="translate(79.29 879.18) scale(0.96 1)" font-size="19.91" text-anchor="end" stroke="#000" stroke-width="0.3">2</text>
<text transform="translate(79.29 816.63) scale(0.96 1)" font-size="19.91" text-anchor="end" stroke="#000" stroke-width="0.3">3</text>
<text transform="translate(79.29 754.08) scale(0.96 1)" font-size="19.91" text-anchor="end" stroke="#000" stroke-width="0.3">4</text>
<text transform="translate(79.29 691.53) scale(0.96 1)" font-size="19.91" text-anchor="end" stroke="#000" stroke-width="0.3">5</text>
<text transform="translate(79.29 628.98) scale(0.96 1)" font-size="19.91" text-anchor="end" stroke="#000" stroke-width="0.3">6</text>
<text transform="translate(79.29 566.43) scale(0.96 1)" font-size="19.91" text-anchor="end" stroke="#000" stroke-width="0.3">7</text>
<text transform="translate(79.29 503.88) scale(0.96 1)" font-size="19.91" text-anchor="end" stroke="#000" stroke-width="0.3">8</text>
<text transform="translate(304.25 939.96)" font-size="24" text-anchor="middle" stroke="#000" stroke-width="0.3">Graphene Yield (%)</text>
<text transform="translate(58.75 684.95) rotate(-90)" font-size="24" text-anchor="middle" stroke="#000" stroke-width="0.3">Mean Graphene Thickness (Layers)</text>
<text transform="translate(0 532.6) scale(0.93 1)" font-size="39.61" font-weight="bold" font-family="&quot;Liberation Sans&quot;, sans-serif">d</text>
<rect x="427.3" y="498.54" width="86.84" height="169.92" fill="#fff" stroke="#3c3c3c" stroke-width="1.15"/>
<text transform="translate(430.44 517.87)" font-size="19.33" stroke="#000" stroke-width="0.3">Minutes:</text>
<rect x="445.43" y="528.69" width="13.06" height="13.06" fill="#000000"/>
<text transform="translate(479.13 541.59)" font-size="19.33" stroke="#000" stroke-width="0.3">30</text>
<circle cx="451.96" cy="558.73" r="7.42" fill="#ff0000"/>
<text transform="translate(479.13 565.11)" font-size="19.33" stroke="#000" stroke-width="0.3">60</text>
<polygon points="451.96,574.93 444.52,587.78 459.41,587.78" fill="#00ff00" stroke="#00ff00" stroke-width="3.92" stroke-linejoin="round"/>
<text transform="translate(479.13 588.83)" font-size="19.33" stroke="#000" stroke-width="0.3">90</text>
<rect x="447.42" y="601.84" width="9.09" height="9.09" fill="#fff" stroke="#0000ff" stroke-width="4.08"/>
<text transform="translate(479.13 612.76)" font-size="19.33" stroke="#000" stroke-width="0.3">120</text>
<circle cx="451.96" cy="630.21" r="5.43" fill="#fff" stroke="#00ffff" stroke-width="3.97"/>
<text transform="translate(479.13 636.59)" font-size="19.33" stroke="#000" stroke-width="0.3">150</text>
<polygon points="451.96,646.76 444.65,659.4 459.28,659.4" fill="#fff" stroke="#ff00ff" stroke-width="4.18" stroke-linejoin="round"/>
<text transform="translate(479.13 660.52)" font-size="19.33" stroke="#000" stroke-width="0.3">180</text>
<g><path d="M110.5 573.8H131.5M110.5 569.08V578.52M131.5 569.08V578.52" stroke="#303030" stroke-width="1.21" fill="none"/><path d="M121 529.5V618.1M116.28 529.5H125.72M116.28 618.1H125.72" stroke="#303030" stroke-width="1.21" fill="none"/><path d="M203.5 614.4H228.9M203.5 609.68V619.12M228.9 609.68V619.12" stroke="#303030" stroke-width="1.21" fill="none"/><path d="M216.2 578.7V650.1M211.48 578.7H220.92M211.48 650.1H220.92" stroke="#303030" stroke-width="1.21" fill="none"/><rect x="114.45" y="567.25" width="13.1" height="13.1" fill="#000000"/><rect x="209.65" y="607.85" width="13.1" height="13.1" fill="#000000"/></g>
<g><path d="M136.6 651.4H180M136.6 646.68V656.12M180 646.68V656.12" stroke="#ff2626" stroke-width="1.21" fill="none"/><path d="M158.3 625.5V677.3M153.58 625.5H163.02M153.58 677.3H163.02" stroke="#ff2626" stroke-width="1.21" fill="none"/><path d="M273.1 760.4H322.7M273.1 755.68V765.12M322.7 755.68V765.12" stroke="#ff2626" stroke-width="1.21" fill="none"/><path d="M297.9 740.1V780.7M293.18 740.1H302.62M293.18 780.7H302.62" stroke="#ff2626" stroke-width="1.21" fill="none"/><circle cx="158.3" cy="651.4" r="7.44" fill="#ff0000"/><circle cx="297.9" cy="760.4" r="7.44" fill="#ff0000"/></g>
<g><path d="M139.3 699.8H203.9M139.3 695.08V704.52M203.9 695.08V704.52" stroke="#26ff26" stroke-width="1.21" fill="none"/><path d="M171.6 676.7V722.9M166.88 676.7H176.32M166.88 722.9H176.32" stroke="#26ff26" stroke-width="1.21" fill="none"/><path d="M338.7 775H355.9M338.7 770.28V779.72M355.9 770.28V779.72" stroke="#26ff26" stroke-width="1.21" fill="none"/><path d="M347.3 759V791M342.58 759H352.02M342.58 791H352.02" stroke="#26ff26" stroke-width="1.21" fill="none"/><polygon points="171.6,691.21 164.13,704.1 179.07,704.1" fill="#00ff00" stroke="#00ff00" stroke-width="3.93" stroke-linejoin="round"/><polygon points="347.3,766.41 339.83,779.3 354.77,779.3" fill="#00ff00" stroke="#00ff00" stroke-width="3.93" stroke-linejoin="round"/></g>
<g><path d="M147.6 682.3H197.4M147.6 677.58V687.02M197.4 677.58V687.02" stroke="#2626ff" stroke-width="1.21" fill="none"/><path d="M172.5 646.2V718.4M167.78 646.2H177.22M167.78 718.4H177.22" stroke="#303030" stroke-width="1.21" fill="none"/><path d="M360.3 741.1H412.3M360.3 736.38V745.82M412.3 736.38V745.82" stroke="#2626ff" stroke-width="1.21" fill="none"/><path d="M386.3 713.2V769M381.58 713.2H391.02M381.58 769H391.02" stroke="#303030" stroke-width="1.21" fill="none"/><rect x="167.94" y="677.74" width="9.12" height="9.12" fill="#fff" stroke="#0000ff" stroke-width="4.09"/><rect x="381.74" y="736.54" width="9.12" height="9.12" fill="#fff" stroke="#0000ff" stroke-width="4.09"/></g>
<g><path d="M223.7 727.5H286.1M223.7 722.78V732.22M286.1 722.78V732.22" stroke="#26ffff" stroke-width="1.21" fill="none"/><path d="M254.9 703.8V751.2M250.18 703.8H259.62M250.18 751.2H259.62" stroke="#26ffff" stroke-width="1.21" fill="none"/><path d="M397.6 832.2H483.2M397.6 827.48V836.92M483.2 827.48V836.92" stroke="#26ffff" stroke-width="1.21" fill="none"/><path d="M440.4 821.8V842.6M435.68 821.8H445.12M435.68 842.6H445.12" stroke="#26ffff" stroke-width="1.21" fill="none"/><circle cx="254.9" cy="727.5" r="5.45" fill="#fff" stroke="#00ffff" stroke-width="3.98"/><circle cx="440.4" cy="832.2" r="5.45" fill="#fff" stroke="#00ffff" stroke-width="3.98"/></g>
<g><path d="M248.1 713.3H271.9M248.1 708.58V718.02M271.9 708.58V718.02" stroke="#ff26ff" stroke-width="1.21" fill="none"/><path d="M260 687.5V739.1M255.28 687.5H264.72M255.28 739.1H264.72" stroke="#ff26ff" stroke-width="1.21" fill="none"/><path d="M440.9 815.1H468.9M440.9 810.38V819.82M468.9 810.38V819.82" stroke="#ff26ff" stroke-width="1.21" fill="none"/><path d="M454.9 803V827.2M450.18 803H459.62M450.18 827.2H459.62" stroke="#ff26ff" stroke-width="1.21" fill="none"/><polygon points="260,704.85 252.66,717.53 267.34,717.53" fill="#fff" stroke="#ff00ff" stroke-width="4.19" stroke-linejoin="round"/><polygon points="454.9,806.65 447.56,819.33 462.24,819.33" fill="#fff" stroke="#ff00ff" stroke-width="4.19" stroke-linejoin="round"/></g>
<line x1="94.7" y1="606.2" x2="513.8" y2="861.5" stroke="#000" stroke-width="1.99"/>
</g>
<g id="panel-e">
<path d="M669 496.67V866.8H1083.03M710.3 866.8v8.69M792.9 866.8v8.69M875.5 866.8v8.69M958.1 866.8v8.69M1040.7 866.8v8.69M669 866.8v4.55M751.6 866.8v4.55M834.2 866.8v4.55M916.8 866.8v4.55M999.4 866.8v4.55M1082 866.8v4.55M669 845.09h-8.69M669 801.66h-8.69M669 758.24h-8.69M669 714.82h-8.69M669 671.39h-8.69M669 627.97h-8.69M669 584.55h-8.69M669 541.12h-8.69M669 497.7h-8.69M669 866.8h-4.55M669 823.38h-4.55M669 779.95h-4.55M669 736.53h-4.55M669 693.11h-4.55M669 649.68h-4.55M669 606.26h-4.55M669 562.84h-4.55M669 519.41h-4.55" stroke="#000" stroke-width="2.07" fill="none"/>
<text transform="translate(710.3 896.79) scale(0.96 1)" font-size="19.65" text-anchor="middle" stroke="#000" stroke-width="0.3">100</text>
<text transform="translate(792.9 896.79) scale(0.96 1)" font-size="19.65" text-anchor="middle" stroke="#000" stroke-width="0.3">200</text>
<text transform="translate(875.5 896.79) scale(0.96 1)" font-size="19.65" text-anchor="middle" stroke="#000" stroke-width="0.3">300</text>
<text transform="translate(958.1 896.79) scale(0.96 1)" font-size="19.65" text-anchor="middle" stroke="#000" stroke-width="0.3">400</text>
<text transform="translate(1040.7 896.79) scale(0.96 1)" font-size="19.65" text-anchor="middle" stroke="#000" stroke-width="0.3">500</text>
<text transform="translate(653.8 851.09) scale(0.96 1)" font-size="19.65" text-anchor="end" stroke="#000" stroke-width="0.3">0.1</text>
<text transform="translate(653.8 807.66) scale(0.96 1)" font-size="19.65" text-anchor="end" stroke="#000" stroke-width="0.3">0.2</text>
<text transform="translate(653.8 764.24) scale(0.96 1)" font-size="19.65" text-anchor="end" stroke="#000" stroke-width="0.3">0.3</text>
<text transform="translate(653.8 720.81) scale(0.96 1)" font-size="19.65" text-anchor="end" stroke="#000" stroke-width="0.3">0.4</text>
<text transform="translate(653.8 677.39) scale(0.96 1)" font-size="19.65" text-anchor="end" stroke="#000" stroke-width="0.3">0.5</text>
<text transform="translate(653.8 633.97) scale(0.96 1)" font-size="19.65" text-anchor="end" stroke="#000" stroke-width="0.3">0.6</text>
<text transform="translate(653.8 590.54) scale(0.96 1)" font-size="19.65" text-anchor="end" stroke="#000" stroke-width="0.3">0.7</text>
<text transform="translate(653.8 547.12) scale(0.96 1)" font-size="19.65" text-anchor="end" stroke="#000" stroke-width="0.3">0.8</text>
<text transform="translate(653.8 503.7) scale(0.96 1)" font-size="19.65" text-anchor="end" stroke="#000" stroke-width="0.3">0.9</text>
<text transform="translate(875.5 932.77)" font-size="23.68" text-anchor="middle" stroke="#000" stroke-width="0.3">Mean Graphene Length (nm)</text>
<text transform="translate(618.54 681.75) rotate(-90)" font-size="23.68" text-anchor="middle" stroke="#000" stroke-width="0.3">Exfoliation Rate (mg hr<tspan dy="-9" font-size="14" letter-spacing="-0.5">-1</tspan><tspan dy="9">)</tspan></text>
<text transform="translate(563.3 536.4) scale(0.97 1)" font-size="41.88" font-weight="bold" font-family="&quot;Liberation Sans&quot;, sans-serif">e</text>
<rect x="674.2" y="496.9" width="140.8" height="55.6" fill="#fff" stroke="#3c3c3c" stroke-width="1.14"/>
<rect x="689.94" y="503.04" width="12.93" height="12.93" fill="#000000"/>
<rect x="692.01" y="531.21" width="8.79" height="8.79" fill="#fff" stroke="#ff0000" stroke-width="4.24"/>
<text transform="translate(722 515.7)" font-size="18.1" stroke="#000" stroke-width="0.3">90 mV<tspan dy="5.2" font-size="12.3">RMS</tspan></text>
<text transform="translate(722 541.8)" font-size="18.1" stroke="#000" stroke-width="0.3">140 mV<tspan dy="5.2" font-size="12.3">RMS</tspan></text>
<g><path d="M810.7 813.8H831.1M810.7 809.15V818.45M831.1 809.15V818.45" stroke="#303030" stroke-width="1.19" fill="none"/><path d="M820.9 807.8V819.8M816.25 807.8H825.55M816.25 819.8H825.55" stroke="#303030" stroke-width="1.19" fill="none"/><path d="M850.8 804.4H869.4M850.8 799.75V809.05M869.4 799.75V809.05" stroke="#303030" stroke-width="1.19" fill="none"/><path d="M860.1 791.6V817.2M855.45 791.6H864.75M855.45 817.2H864.75" stroke="#303030" stroke-width="1.19" fill="none"/><path d="M859.2 826.2H880.4M859.2 821.55V830.85M880.4 821.55V830.85" stroke="#303030" stroke-width="1.19" fill="none"/><path d="M869.8 813.3V839.1M865.15 813.3H874.45M865.15 839.1H874.45" stroke="#303030" stroke-width="1.19" fill="none"/><path d="M906.5 806H930.7M906.5 801.35V810.65M930.7 801.35V810.65" stroke="#303030" stroke-width="1.19" fill="none"/><path d="M918.6 783.5V828.5M913.95 783.5H923.25M913.95 828.5H923.25" stroke="#303030" stroke-width="1.19" fill="none"/><path d="M971.1 746.8H1004.1M971.1 742.15V751.45M1004.1 742.15V751.45" stroke="#303030" stroke-width="1.19" fill="none"/><path d="M987.6 726.1V767.5M982.95 726.1H992.25M982.95 767.5H992.25" stroke="#303030" stroke-width="1.19" fill="none"/><path d="M995.2 778.9H1025.2M995.2 774.25V783.55M1025.2 774.25V783.55" stroke="#303030" stroke-width="1.19" fill="none"/><path d="M1010.2 756.6V801.2M1005.55 756.6H1014.85M1005.55 801.2H1014.85" stroke="#303030" stroke-width="1.19" fill="none"/><rect x="814.44" y="807.34" width="12.93" height="12.93" fill="#000000"/><rect x="853.64" y="797.94" width="12.93" height="12.93" fill="#000000"/><rect x="863.34" y="819.74" width="12.93" height="12.93" fill="#000000"/><rect x="912.14" y="799.54" width="12.93" height="12.93" fill="#000000"/><rect x="981.14" y="740.34" width="12.93" height="12.93" fill="#000000"/><rect x="1003.74" y="772.44" width="12.93" height="12.93" fill="#000000"/></g>
<g><path d="M854.9 549.7H869.5M854.9 545.05V554.35M869.5 545.05V554.35" stroke="#ff2626" stroke-width="1.19" fill="none"/><path d="M862.2 524V575.4M857.55 524H866.85M857.55 575.4H866.85" stroke="#ff2626" stroke-width="1.19" fill="none"/><path d="M818.5 609.1V659.5M813.85 609.1H823.15M813.85 659.5H823.15" stroke="#ff2626" stroke-width="1.19" fill="none"/><path d="M823.3 685H838.5M823.3 680.35V689.65M838.5 680.35V689.65" stroke="#ff2626" stroke-width="1.19" fill="none"/><path d="M830.9 678.5V691.5M826.25 678.5H835.55M826.25 691.5H835.55" stroke="#ff2626" stroke-width="1.19" fill="none"/><path d="M748.9 702.1V729.1M744.25 702.1H753.55M744.25 729.1H753.55" stroke="#ff2626" stroke-width="1.19" fill="none"/><path d="M760.7 716.5H778.3M760.7 711.85V721.15M778.3 711.85V721.15" stroke="#ff2626" stroke-width="1.19" fill="none"/><path d="M769.5 698.7V734.3M764.85 698.7H774.15M764.85 734.3H774.15" stroke="#ff2626" stroke-width="1.19" fill="none"/><rect x="857.81" y="545.31" width="8.79" height="8.79" fill="#fff" stroke="#ff0000" stroke-width="4.24"/><rect x="814.11" y="629.91" width="8.79" height="8.79" fill="#fff" stroke="#ff0000" stroke-width="4.24"/><rect x="826.51" y="680.61" width="8.79" height="8.79" fill="#fff" stroke="#ff0000" stroke-width="4.24"/><rect x="744.51" y="711.21" width="8.79" height="8.79" fill="#fff" stroke="#ff0000" stroke-width="4.24"/><rect x="765.11" y="712.11" width="8.79" height="8.79" fill="#fff" stroke="#ff0000" stroke-width="4.24"/><rect x="701.11" y="741.31" width="8.79" height="8.79" fill="#fff" stroke="#ff0000" stroke-width="4.24"/></g>
<line x1="683.5" y1="866.5" x2="1082" y2="743.9" stroke="#000" stroke-width="1.96"/>
<line x1="668.7" y1="805" x2="954.5" y2="497.7" stroke="#ff0000" stroke-width="1.81"/>
</g>
<g id="panel-f">
<path d="M1233.7 496.58V863H1642.62M1233.7 863v8.57M1301.68 863v8.57M1369.67 863v8.57M1437.65 863v8.57M1505.63 863v8.57M1573.62 863v8.57M1641.6 863v8.57M1267.69 863v4.49M1335.67 863v4.49M1403.66 863v4.49M1471.64 863v4.49M1539.62 863v4.49M1607.61 863v4.49M1233.7 841.51h-8.57M1233.7 798.52h-8.57M1233.7 755.53h-8.57M1233.7 712.54h-8.57M1233.7 669.55h-8.57M1233.7 626.56h-8.57M1233.7 583.58h-8.57M1233.7 540.59h-8.57M1233.7 497.6h-8.57M1233.7 863h-4.49M1233.7 820.01h-4.49M1233.7 777.02h-4.49M1233.7 734.04h-4.49M1233.7 691.05h-4.49M1233.7 648.06h-4.49M1233.7 605.07h-4.49M1233.7 562.08h-4.49M1233.7 519.09h-4.49" stroke="#000" stroke-width="2.04" fill="none"/>
<text transform="translate(1233.7 892.58)" font-size="19.38" text-anchor="middle" stroke="#000" stroke-width="0.3">2</text>
<text transform="translate(1301.68 892.58)" font-size="19.38" text-anchor="middle" stroke="#000" stroke-width="0.3">3</text>
<text transform="translate(1369.67 892.58)" font-size="19.38" text-anchor="middle" stroke="#000" stroke-width="0.3">4</text>
<text transform="translate(1437.65 892.58)" font-size="19.38" text-anchor="middle" stroke="#000" stroke-width="0.3">5</text>
<text transform="translate(1505.63 892.58)" font-size="19.38" text-anchor="middle" stroke="#000" stroke-width="0.3">6</text>
<text transform="translate(1573.62 892.58)" font-size="19.38" text-anchor="middle" stroke="#000" stroke-width="0.3">7</text>
<text transform="translate(1641.6 892.58)" font-size="19.38" text-anchor="middle" stroke="#000" stroke-width="0.3">8</text>
<text transform="translate(1218.71 847.42) scale(0.96 1)" font-size="19.38" text-anchor="end" stroke="#000" stroke-width="0.3">0.1</text>
<text transform="translate(1218.71 804.43) scale(0.96 1)" font-size="19.38" text-anchor="end" stroke="#000" stroke-width="0.3">0.2</text>
<text transform="translate(1218.71 761.45) scale(0.96 1)" font-size="19.38" text-anchor="end" stroke="#000" stroke-width="0.3">0.3</text>
<text transform="translate(1218.71 718.46) scale(0.96 1)" font-size="19.38" text-anchor="end" stroke="#000" stroke-width="0.3">0.4</text>
<text transform="translate(1218.71 675.47) scale(0.96 1)" font-size="19.38" text-anchor="end" stroke="#000" stroke-width="0.3">0.5</text>
<text transform="translate(1218.71 632.48) scale(0.96 1)" font-size="19.38" text-anchor="end" stroke="#000" stroke-width="0.3">0.6</text>
<text transform="translate(1218.71 589.49) scale(0.96 1)" font-size="19.38" text-anchor="end" stroke="#000" stroke-width="0.3">0.7</text>
<text transform="translate(1218.71 546.5) scale(0.96 1)" font-size="19.38" text-anchor="end" stroke="#000" stroke-width="0.3">0.8</text>
<text transform="translate(1218.71 503.52) scale(0.96 1)" font-size="19.38" text-anchor="end" stroke="#000" stroke-width="0.3">0.9</text>
<text transform="translate(1437.65 928.08)" font-size="23.36" text-anchor="middle" stroke="#000" stroke-width="0.3">Mean Graphene Thickness (Layers)</text>
<text transform="translate(1183.41 679.8) rotate(-90)" font-size="23.36" text-anchor="middle" stroke="#000" stroke-width="0.3">Exfoliation Rate (mg hr<tspan dy="-9" font-size="14" letter-spacing="-0.5">-1</tspan><tspan dy="9">)</tspan></text>
<text transform="translate(1131.5 535.4) scale(0.95 1)" font-size="38.56" font-weight="bold" font-family="&quot;Liberation Sans&quot;, sans-serif">f</text>
<rect x="1238.8" y="497.3" width="139.2" height="55.3" fill="#fff" stroke="#3c3c3c" stroke-width="1.12"/>
<rect x="1254.62" y="503.53" width="12.75" height="12.75" fill="#000000"/>
<rect x="1256.66" y="531.66" width="8.67" height="8.67" fill="#fff" stroke="#ff0000" stroke-width="4.18"/>
<text transform="translate(1286.6 516.1)" font-size="18.1" stroke="#000" stroke-width="0.3">90 mV<tspan dy="5.2" font-size="12.3">RMS</tspan></text>
<text transform="translate(1286.6 542.2)" font-size="18.1" stroke="#000" stroke-width="0.3">140 mV<tspan dy="5.2" font-size="12.3">RMS</tspan></text>
<g><path d="M1365.8 800.5H1417.8M1365.8 795.91V805.09M1417.8 795.91V805.09" stroke="#303030" stroke-width="1.17" fill="none"/><path d="M1391.8 787.8V813.2M1387.21 787.8H1396.39M1387.21 813.2H1396.39" stroke="#303030" stroke-width="1.17" fill="none"/><path d="M1378.9 810.2H1435.3M1378.9 805.61V814.79M1435.3 805.61V814.79" stroke="#303030" stroke-width="1.17" fill="none"/><path d="M1407.1 806.2V814.2M1402.51 806.2H1411.69M1402.51 814.2H1411.69" stroke="#303030" stroke-width="1.17" fill="none"/><path d="M1397.2 802.5H1446.8M1397.2 797.91V807.09M1446.8 797.91V807.09" stroke="#303030" stroke-width="1.17" fill="none"/><path d="M1422 780.3V824.7M1417.41 780.3H1426.59M1417.41 824.7H1426.59" stroke="#303030" stroke-width="1.17" fill="none"/><path d="M1401 822.9H1479.8M1401 818.31V827.49M1479.8 818.31V827.49" stroke="#303030" stroke-width="1.17" fill="none"/><path d="M1440.4 810.5V835.3M1435.81 810.5H1444.99M1435.81 835.3H1444.99" stroke="#303030" stroke-width="1.17" fill="none"/><path d="M1446 775.6H1502.6M1446 771.01V780.19M1502.6 771.01V780.19" stroke="#303030" stroke-width="1.17" fill="none"/><path d="M1474.3 753.4V797.8M1469.71 753.4H1478.89M1469.71 797.8H1478.89" stroke="#303030" stroke-width="1.17" fill="none"/><path d="M1510.9 743.9H1606.7M1510.9 739.31V748.49M1606.7 739.31V748.49" stroke="#303030" stroke-width="1.17" fill="none"/><path d="M1558.8 723.3V764.5M1554.21 723.3H1563.39M1554.21 764.5H1563.39" stroke="#303030" stroke-width="1.17" fill="none"/><rect x="1385.42" y="794.12" width="12.75" height="12.75" fill="#000000"/><rect x="1400.72" y="803.83" width="12.75" height="12.75" fill="#000000"/><rect x="1415.62" y="796.12" width="12.75" height="12.75" fill="#000000"/><rect x="1434.03" y="816.52" width="12.75" height="12.75" fill="#000000"/><rect x="1467.92" y="769.23" width="12.75" height="12.75" fill="#000000"/><rect x="1552.42" y="737.52" width="12.75" height="12.75" fill="#000000"/></g>
<g><path d="M1476.4 549.2H1552.8M1476.4 544.61V553.79M1552.8 544.61V553.79" stroke="#ff2626" stroke-width="1.17" fill="none"/><path d="M1514.6 523.7V574.7M1510.01 523.7H1519.19M1510.01 574.7H1519.19" stroke="#ff2626" stroke-width="1.17" fill="none"/><path d="M1333.7 633H1378.3M1333.7 628.41V637.59M1378.3 628.41V637.59" stroke="#ff2626" stroke-width="1.17" fill="none"/><path d="M1356 608V658M1351.41 608H1360.59M1351.41 658H1360.59" stroke="#ff2626" stroke-width="1.17" fill="none"/><path d="M1322.5 683H1357.1M1322.5 678.41V687.59M1357.1 678.41V687.59" stroke="#ff2626" stroke-width="1.17" fill="none"/><path d="M1339.8 679V687M1335.21 679H1344.39M1335.21 687H1344.39" stroke="#ff2626" stroke-width="1.17" fill="none"/><path d="M1266.9 714.2H1288.7M1266.9 709.61V718.79M1288.7 709.61V718.79" stroke="#ff2626" stroke-width="1.17" fill="none"/><path d="M1277.8 696.9V731.5M1273.21 696.9H1282.39M1273.21 731.5H1282.39" stroke="#ff2626" stroke-width="1.17" fill="none"/><path d="M1346.9 713.3H1407.3M1346.9 708.71V717.89M1407.3 708.71V717.89" stroke="#ff2626" stroke-width="1.17" fill="none"/><path d="M1377.1 700.2V726.4M1372.51 700.2H1381.69M1372.51 726.4H1381.69" stroke="#ff2626" stroke-width="1.17" fill="none"/><path d="M1283 743.3H1309.4M1283 738.71V747.89M1309.4 738.71V747.89" stroke="#ff2626" stroke-width="1.17" fill="none"/><path d="M1296.2 739.3V747.3M1291.61 739.3H1300.79M1291.61 747.3H1300.79" stroke="#ff2626" stroke-width="1.17" fill="none"/><rect x="1510.26" y="544.87" width="8.67" height="8.67" fill="#fff" stroke="#ff0000" stroke-width="4.18"/><rect x="1351.66" y="628.66" width="8.67" height="8.67" fill="#fff" stroke="#ff0000" stroke-width="4.18"/><rect x="1335.46" y="678.66" width="8.67" height="8.67" fill="#fff" stroke="#ff0000" stroke-width="4.18"/><rect x="1273.46" y="709.87" width="8.67" height="8.67" fill="#fff" stroke="#ff0000" stroke-width="4.18"/><rect x="1372.76" y="708.96" width="8.67" height="8.67" fill="#fff" stroke="#ff0000" stroke-width="4.18"/><rect x="1291.87" y="738.96" width="8.67" height="8.67" fill="#fff" stroke="#ff0000" stroke-width="4.18"/></g>
<line x1="1336.3" y1="862.6" x2="1641.6" y2="710.2" stroke="#000" stroke-width="1.94"/>
<line x1="1233.7" y1="847" x2="1511" y2="497.7" stroke="#ff0000" stroke-width="1.79"/>
</g>
</svg>
</body></html>
